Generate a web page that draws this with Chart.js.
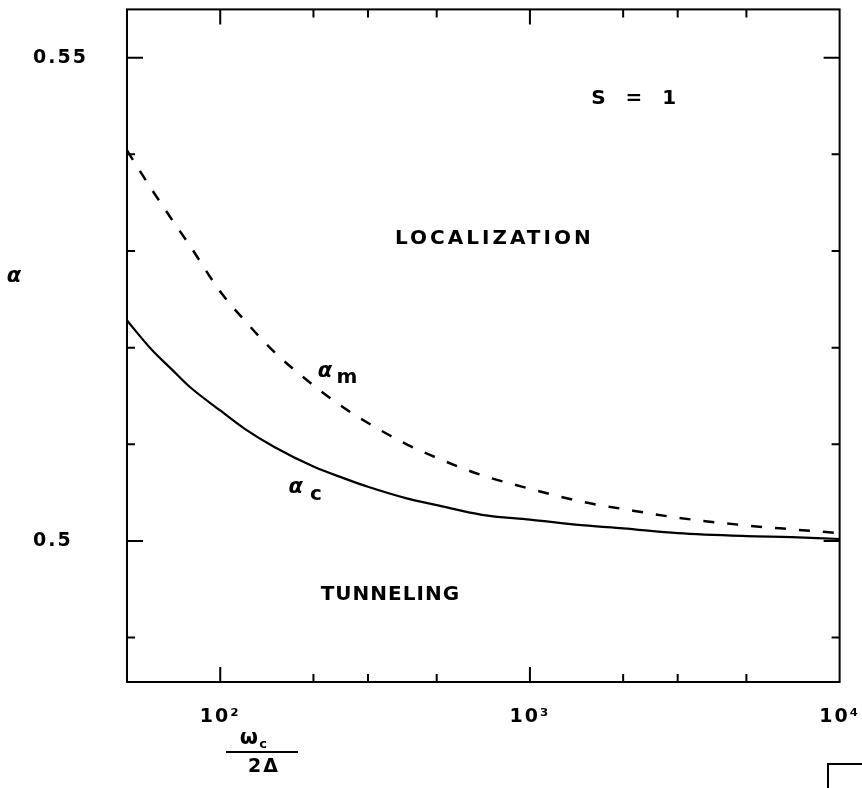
<!DOCTYPE html>
<html><head><meta charset="utf-8">
<script src="https://cdn.jsdelivr.net/npm/chart.js@4.4.1/dist/chart.umd.min.js"></script>
<style>
html,body{margin:0;padding:0;background:#fff;width:862px;height:788px;overflow:hidden}
canvas{display:block;margin-top:-5px}
</style>
</head><body>
<canvas id="c" width="881" height="793"></canvas>
<script>
// ---- data ----
const omegaRatio = [50, 60, 70, 80, 100, 120, 150, 200, 250, 300, 400, 500, 700, 1000, 1500, 2000, 3000, 5000, 7000, 10000];
const alphaM = [0.5404, 0.5364, 0.5332, 0.5305, 0.5258, 0.5228, 0.5195, 0.5161, 0.5138, 0.5122, 0.5100, 0.5086, 0.5068, 0.5054, 0.5040, 0.5033, 0.5024, 0.5016, 0.5012, 0.5008];
const alphaC = [0.5228, 0.5198, 0.5177, 0.5159, 0.5135, 0.5116, 0.5097, 0.5077, 0.5065, 0.5056, 0.5044, 0.5037, 0.5027, 0.5022, 0.5016, 0.5013, 0.5008, 0.5005, 0.5004, 0.5002];
const xTickValues = [100, 200, 300, 500, 1000, 2000, 3000, 5000, 10000];
const xTickLabels = ['10²', '', '', '', '10³', '', '', '', '10⁴'];
const yTickValues = [0.49, 0.50, 0.51, 0.52, 0.53, 0.54, 0.55];
const yTickLabels = ['', '0.5', '', '', '', '', '0.55'];

const FONT = "'DejaVu Sans', sans-serif";
const OY = 5; // canvas is shifted up by this many pixels

const spacing = {
  id: 'spacing',
  beforeDraw(chart) { chart.ctx.letterSpacing = '2px'; },
  afterDraw(chart) { chart.ctx.letterSpacing = '0px'; }
};

const frame = {
  id: 'frame',
  afterDatasetsDraw(chart) {
    const { ctx, chartArea: a, scales: { x, y } } = chart;
    ctx.save();
    ctx.letterSpacing = '0px';
    ctx.strokeStyle = '#000';
    ctx.lineWidth = 2;
    ctx.strokeRect(a.left, a.top, a.right - a.left, a.bottom - a.top);
    ctx.beginPath();
    xTickValues.forEach((v, i) => {
      const px = x.getPixelForValue(v);
      if (px >= a.right - 1) return;
      const len = xTickLabels[i] ? 15 : 8;
      ctx.moveTo(px, a.bottom); ctx.lineTo(px, a.bottom - len);
      ctx.moveTo(px, a.top); ctx.lineTo(px, a.top + len);
    });
    yTickValues.forEach((v, i) => {
      const py = y.getPixelForValue(v);
      const len = yTickLabels[i] ? 16 : 8;
      ctx.moveTo(a.left, py); ctx.lineTo(a.left + len, py);
      ctx.moveTo(a.right, py); ctx.lineTo(a.right - len, py);
    });
    // fragment of neighbouring frame, bottom right
    ctx.moveTo(828, 793); ctx.lineTo(828, 764 + OY); ctx.lineTo(881, 764 + OY);
    ctx.stroke();

    ctx.fillStyle = '#000';
    ctx.textBaseline = 'middle';
    ctx.textAlign = 'center';
    const at = (txt, xv, yv, size, sp, style) => {
      ctx.font = (style || '') + ' ' + size + 'px ' + FONT;
      ctx.letterSpacing = sp + 'px';
      ctx.fillText(txt, x.getPixelForValue(xv) + sp / 2, y.getPixelForValue(yv));
    };
    at('S  =  1', 2163, 0.54578, 20, 2, 'bold');
    at('LOCALIZATION', 759, 0.5313, 20, 3, 'bold');
    at('TUNNELING', 353, 0.49438, 20, 1, 'bold');
    at('α', 218, 0.51755, 21, 0, 'italic bold');
    at('m', 256.6, 0.51683, 20, 0, 'bold');
    at('α', 175.4, 0.50555, 21, 0, 'italic bold');
    at('c', 203.7, 0.50473, 20, 0, 'bold');

    // axis titles
    ctx.letterSpacing = '0px';
    ctx.font = 'italic bold 21px ' + FONT;
    ctx.fillText('α', 14, 277 + OY);
    ctx.font = 'bold 21px ' + FONT;
    ctx.fillText('ω', 249, 739 + OY);
    ctx.font = 'bold 13px ' + FONT;
    ctx.fillText('c', 263, 745 + OY);
    ctx.beginPath();
    ctx.moveTo(226, 752 + OY); ctx.lineTo(298, 752 + OY);
    ctx.stroke();
    ctx.font = 'bold 19px ' + FONT;
    ctx.letterSpacing = '2px';
    ctx.fillText('2Δ', 264, 767 + OY);
    ctx.restore();
  }
};

new Chart(document.getElementById('c'), {
  type: 'line',
  data: {
    datasets: [
      { label: 'α m', data: omegaRatio.map((v, i) => ({ x: v, y: alphaM[i] })),
        borderColor: '#000', borderWidth: 2.5, borderDash: [11, 13], pointRadius: 0,
        cubicInterpolationMode: 'monotone', fill: false },
      { label: 'α c', data: omegaRatio.map((v, i) => ({ x: v, y: alphaC[i] })),
        borderColor: '#000', borderWidth: 2.2, pointRadius: 0,
        cubicInterpolationMode: 'monotone', fill: false }
    ]
  },
  options: {
    responsive: false,
    devicePixelRatio: 1,
    animation: false,
    layout: { padding: { left: 33, top: 4, right: 4, bottom: 0 } },
    plugins: { legend: { display: false }, tooltip: { enabled: false } },
    scales: {
      x: {
        type: 'logarithmic', min: 50, max: 10000,
        grid: { display: false, drawTicks: false },
        border: { display: false },
        afterBuildTicks: (s) => { s.ticks = xTickValues.map(v => ({ value: v })); },
        afterFit: (s) => { s.height = 106; },
        ticks: {
          autoSkip: false, maxRotation: 0, padding: 24, color: '#000',
          font: { family: FONT, size: 19, weight: 'bold' },
          callback: (v) => { const i = xTickValues.indexOf(v); return i >= 0 ? xTickLabels[i] : ''; }
        }
      },
      y: {
        type: 'linear', min: 0.4854, max: 0.555,
        grid: { display: false, drawTicks: false },
        border: { display: false },
        afterBuildTicks: (s) => { s.ticks = yTickValues.map(v => ({ value: v })); },
        afterFit: (s) => { s.width = 94; },
        ticks: {
          autoSkip: false, crossAlign: 'far', color: '#000',
          font: { family: FONT, size: 19, weight: 'bold' },
          callback: (v) => { const i = yTickValues.findIndex(t => Math.abs(t - v) < 1e-6); return i >= 0 ? yTickLabels[i] : ''; }
        }
      }
    }
  },
  plugins: [spacing, frame]
});
</script>
</body></html>
